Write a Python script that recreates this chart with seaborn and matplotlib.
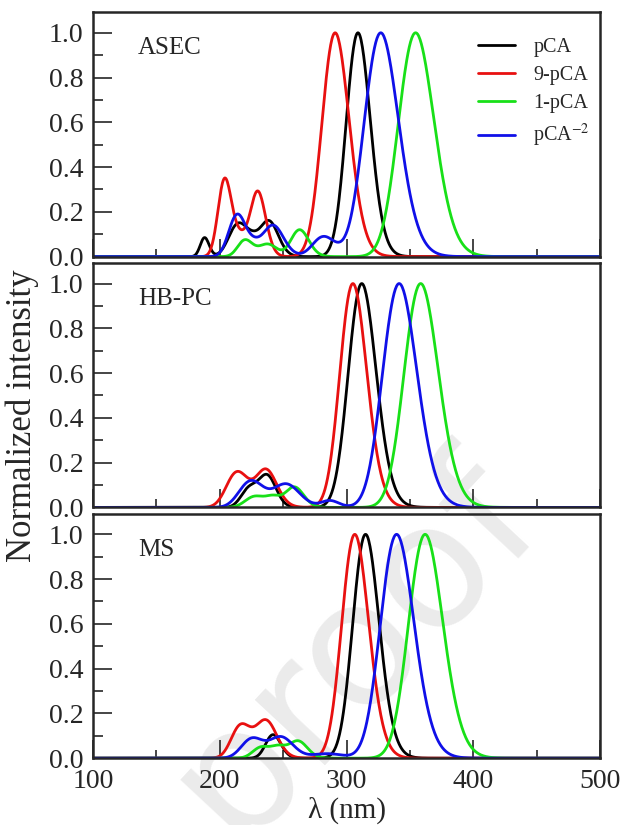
import numpy as np
import pandas as pd
import seaborn as sns
import matplotlib.pyplot as plt

# bands: (centre nm, height, width nm)
asec_pca = [(188, 0.085, 3.5), (215, 0.15, 8), (227, 0.03, 5), (239, 0.155, 7), (309, 1.0, 9.5)]
asec_9pca = [(204, 0.35, 5.5), (217, 0.07, 5), (230, 0.29, 6), (291, 1.0, 10.7)]
asec_1pca = [(220, 0.075, 6), (238, 0.055, 7), (263, 0.12, 7), (354.5, 1.0, 14)]
asec_pca2 = [(214, 0.19, 7), (228, 0.03, 5), (242, 0.14, 8), (282, 0.09, 9), (327, 1.0, 13.5)]

hbpc_pca = [(224, 0.09, 7), (238, 0.13, 6.5), (312, 1.0, 11)]
hbpc_9pca = [(214, 0.16, 9), (237, 0.16, 8), (305, 1.0, 10.6)]
hbpc_1pca = [(228, 0.05, 8), (243, 0.04, 6), (259, 0.09, 7), (358.5, 1.0, 13.5)]
hbpc_pca2 = [(225, 0.12, 10), (253, 0.10, 10), (287, 0.03, 7), (341.5, 1.0, 13.5)]

ms_pca = [(242, 0.105, 6), (315, 1.0, 10.4)]
ms_9pca = [(217, 0.15, 8), (237, 0.16, 8), (306.5, 1.0, 10.6)]
ms_1pca = [(233, 0.05, 7), (247, 0.045, 6), (262, 0.075, 7), (362, 1.0, 13.5)]
ms_pca2 = [(226, 0.09, 9), (249, 0.09, 9), (285, 0.02, 12), (339.5, 1.0, 13.2)]

panels = ["ASEC", "HB-PC", "MS"]
series = ["pCA", "9-pCA", "1-pCA", "pCA$^{-2}$"]
colors = ["black", "#e81010", "#18e018", "#1010e8"]
bands = {
    "ASEC": [asec_pca, asec_9pca, asec_1pca, asec_pca2],
    "HB-PC": [hbpc_pca, hbpc_9pca, hbpc_1pca, hbpc_pca2],
    "MS": [ms_pca, ms_9pca, ms_1pca, ms_pca2],
}

wl = np.arange(100, 500.5, 0.5)
hc = 1239.84  # eV nm, bands are broadened in energy

rows = []
for p in panels:
    for name, bl in zip(series, bands[p]):
        y = np.zeros_like(wl)
        for c, h, w in bl:
            sE = hc * w / c ** 2
            y += h * np.exp(-(hc / wl - hc / c) ** 2 / (2 * sE ** 2))
        y = y / y.max()
        rows.append(pd.DataFrame({"wl": wl, "I": y, "series": name, "panel": p}))
df = pd.concat(rows, ignore_index=True)

sns.set_style("ticks", {"xtick.direction": "in", "ytick.direction": "in"})
plt.rcParams["font.family"] = ["Liberation Serif", "DejaVu Serif"]
plt.rcParams["mathtext.fontset"] = "stix"

fig, axes = plt.subplots(3, 1, figsize=(6.25, 8.25), dpi=100, sharex=True)
fig.subplots_adjust(left=0.149, right=0.96, top=0.9855, bottom=0.081, hspace=0.025)

# watermark
fig.text(0.565, 0.215, "proof", rotation=47, fontsize=125, color="#ebebeb",
         ha="center", va="center", family="DejaVu Sans", zorder=-1)

for ax, p in zip(axes, panels):
    ax.set_facecolor("none")
    sns.lineplot(data=df[df.panel == p], x="wl", y="I", hue="series",
                 hue_order=series, palette=colors, linewidth=2, ax=ax,
                 legend=(p == "ASEC"))
    ax.set_xlim(100, 500)
    ax.set_ylim(0, 1.093)
    ax.set_yticks([0, 0.2, 0.4, 0.6, 0.8, 1.0])
    ax.set_yticks(np.arange(0.1, 1.0, 0.2), minor=True)
    ax.set_xticks([100, 200, 300, 400, 500])
    ax.set_xticks([150, 250, 350, 450], minor=True)
    ax.yaxis.set_major_formatter(plt.FormatStrFormatter("%.1f"))
    ax.tick_params(axis="y", which="major", length=14, width=1.2, labelsize=20, pad=7)
    ax.tick_params(axis="y", which="minor", length=7, width=1.2)
    ax.tick_params(axis="x", which="major", length=13, width=1.2, labelsize=20, pad=8)
    ax.tick_params(axis="x", which="minor", length=6, width=1.2)
    for s in ax.spines.values():
        s.set_linewidth(1.8)
    ax.set_ylabel("")
    ax.set_xlabel("")
    ax.text(135.5, 0.93, p, fontsize=18, va="center", ha="left")

h, l = axes[0].get_legend_handles_labels()
axes[0].legend(h, l, loc="upper left", bbox_to_anchor=(0.759, 0.894), frameon=False,
               fontsize=14.5, handlelength=1.85, handletextpad=0.9, labelspacing=0.45,
               borderpad=0, borderaxespad=0)

axes[2].set_xlabel("λ (nm)", fontsize=21, labelpad=2)
fig.text(0.035, 0.496, "Normalized intensity", rotation=90, fontsize=25,
         ha="center", va="center")

fig.savefig("out.png", dpi=100)
